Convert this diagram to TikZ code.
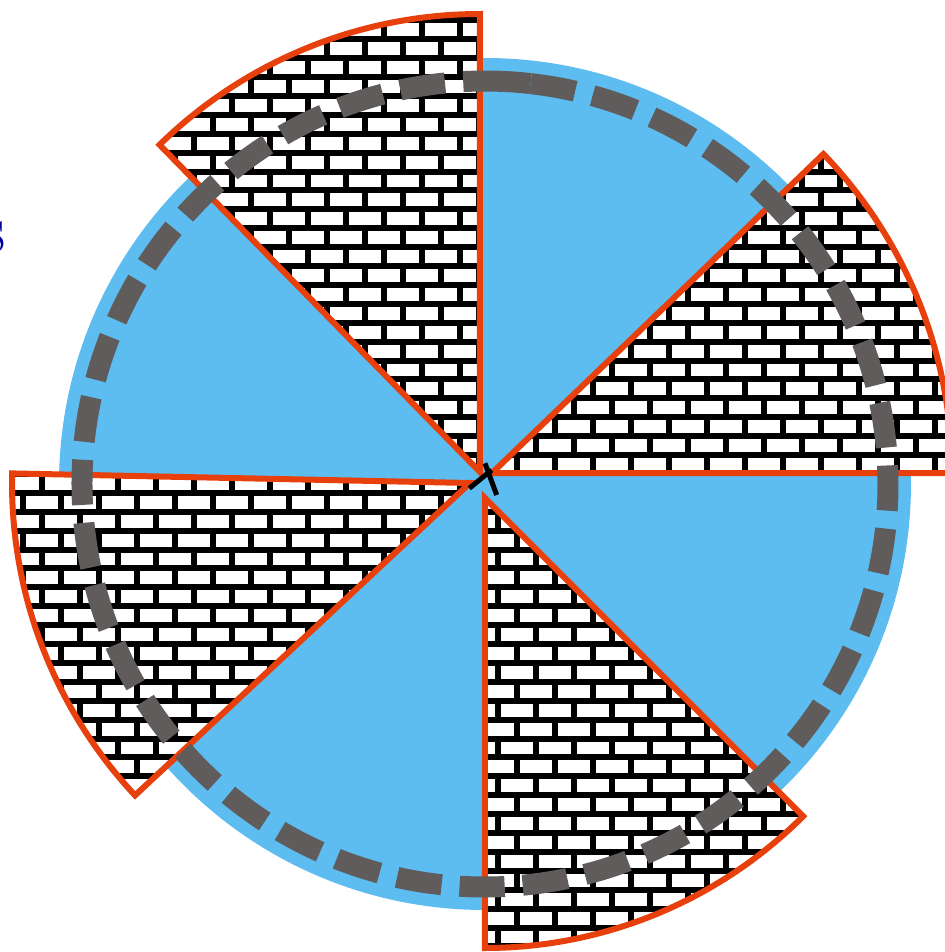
\documentclass[tikz,border=0pt]{standalone}
\usetikzlibrary{calc}
\definecolor{skyfill}{RGB}{93,189,241}
\definecolor{edgered}{RGB}{232,64,12}
\definecolor{dashgray}{RGB}{97,92,92}
\definecolor{inkblue}{RGB}{0,0,160}

% white bricks with black mortar, laid over the whole current clip
\newcommand{\brickfill}{%
  \fill[white] (-5,-5) rectangle (5,5);
  \foreach \k in {0,...,52}
    \draw[mortar] (-5,{-4.813+0.189*\k}) -- (5,{-4.813+0.189*\k});
  \foreach \j in {0,...,52}{
    \pgfmathsetmacro{\xx}{0.13+0.19*(\j-26)}
    \pgfmathsetmacro{\ph}{mod(\j,2)==1 ? 0 : 1.89}
    \draw[mortar, dash pattern=on 1.89mm off 1.89mm, dash phase=\ph mm]
      (\xx,-4.813) -- (\xx,5.015);
  }%
}

\begin{document}
\begin{tikzpicture}[
  mortar/.style={black, line width=0.6mm},
  sector/.style={edgered, line width=0.6mm},
  ring/.style={dashgray, line width=2.1mm}]
  \useasboundingbox (-4.85,-4.68) rectangle (4.60,4.84);
  \coordinate (M) at (0,0);
  \fill[skyfill] (M) circle[radius=4.26];
  % the four brick wedges
  \foreach \ax/\ay/\sa/\ea/\rr in {-0.05/0.12/90/134.4/4.58, 0.07/0.11/0/43.9/4.60,
      0/-0.14/-90/-45/4.50, -0.15/0.01/178.8/223/4.58}{
    \begin{scope}
      \clip (\ax,\ay) -- ++(\sa:\rr) arc[start angle=\sa, end angle=\ea, radius=\rr] -- cycle;
      \brickfill
    \end{scope}
    \draw[sector] (\ax,\ay) -- ++(\sa:\rr) arc[start angle=\sa, end angle=\ea, radius=\rr] -- cycle;
  }
  % dashed ring
  \draw[ring, dash pattern=on 4.519mm off 1.8mm] (95.7:4.03) arc[start angle=95.7, end angle=443.5, radius=4.03];
  \draw[ring] (83.5:4.03) arc[start angle=83.5, end angle=93.1, radius=4.03];
  % centre mark
  \draw[line width=0.5mm] (-0.157,-0.043) -- (0.067,0.14);
  \draw[line width=0.5mm] (0,0.207) -- (0.117,-0.11);
  \node[anchor=east, inner sep=0pt, text=inkblue, font=\fontsize{20}{24}\selectfont] (frag) at (-4.785,2.47) {s};
\end{tikzpicture}
\end{document}
